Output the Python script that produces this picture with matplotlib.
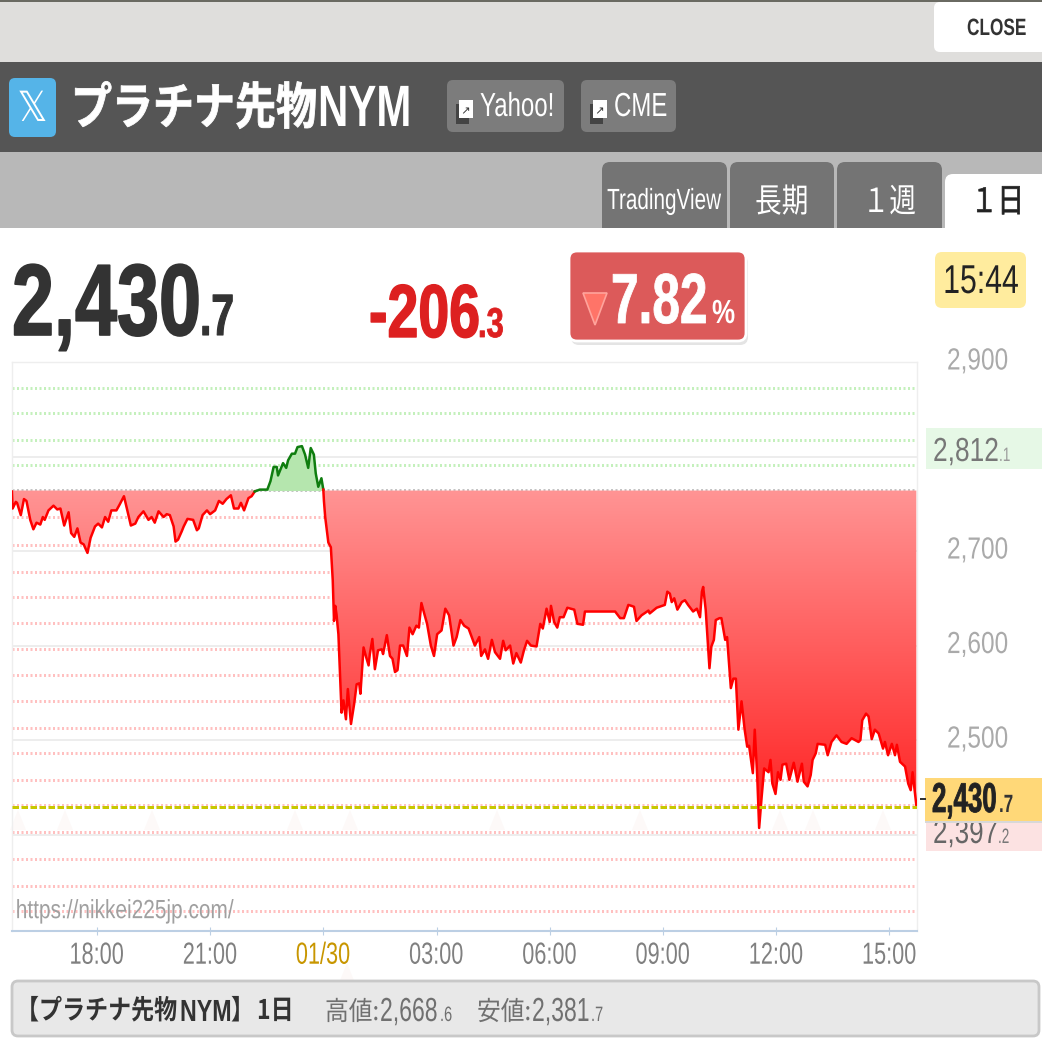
import matplotlib
matplotlib.use("Agg")
import numpy as np
import matplotlib.pyplot as plt
from matplotlib.patches import Rectangle, FancyBboxPatch, Polygon
from matplotlib.colors import LinearSegmentedColormap
from matplotlib.path import Path
from matplotlib.patheffects import AbstractPathEffect
from matplotlib.transforms import Affine2D, Bbox, ScaledTranslation

# ---- data ----
minutes = [0,1,6,8,14,19,23,29,34,39,45,49,52,58,66,72,77,83,90,94,99,104,109,114,120,125,132,137,143,148,153,158,166,171,178,183,189,196,201,209,217,222,227,233,241,246,251,257,260,264,270,273,279,288,294,297,303,310,315,323,329,335,341,348,353,360,364,369,376,381,386,394,402,406,411,416,421,423,431,436,439,445,450,454,461,466,471,475,480,483,487,492,495,
496,498,503,507,510,512,514,516,519,522,524,527,531,534,539,544,548,552,554,559,563,567,569,573,577,582,588,590,596,601,605,609,613,617,622,628,632,637,643,647,651,655,660,666,671,676,683,689,695,702,707,713,719,726,731,736,743,746,752,757,763,768,776,781,785,792,797,802,809,814,819,825,834,840,844,850,855,857,862,867,871,877,883,894,899,908,911,959,967,973,980,985,989,993,1001,1012,1014,
1025,1038,1042,1046,1049,1053,1058,1065,1070,1075,1083,1089,1094,1097,1099,1103,1109,1112,1116,1119,1125,1128,1134,1137,1143,1147,1151,1155,1160,1165,1169,1172,1178,1181,1185,1188,1192,1196,1203,1206,1209,1214,1218,1222,1225,1231,1236,1243,1249,1256,1259,1265,1270,1273,1278,1281,1293,1297,1303,1311,1319,1327,1335,1346,1349,1352,1358,1362,1367,1372,1378,1385,1388,1393,1399,1404,1407,1412,1420,1425,1429,1432,1438]
prices = [2763,2745,2752,2751,2738,2755,2753,2733,2723,2730,2728,2736,2733,2743,2748,2744,2745,2727,2741,2719,2715,2724,2709,2707,2698,2714,2726,2729,2725,2736,2731,2743,2743,2749,2758,2744,2727,2729,2736,2742,2733,2736,2730,2742,2736,2739,2738,2726,2710,2712,2721,2726,2734,2733,2722,2724,2738,2743,2739,2743,2753,2750,2755,2759,2745,2745,2751,2743,2756,2758,2763,2765,2765,2765,2774,2789,2789,2780,2793,2788,2796,2803,2803,2810,2811,2802,2788,2809,2802,2782,2768,2777,2765,
2753,2736,2709,2704,2669,2626,2642,2633,2612,2563,2529,2542,2522,2554,2517,2538,2559,2560,2549,2598,2588,2579,2591,2607,2575,2595,2596,2591,2611,2589,2586,2572,2574,2600,2600,2589,2619,2612,2621,2619,2645,2635,2623,2600,2589,2612,2616,2639,2632,2600,2609,2627,2621,2618,2609,2600,2609,2589,2596,2586,2606,2593,2586,2605,2595,2600,2581,2592,2582,2595,2605,2600,2599,2623,2618,2639,2625,2642,2625,2619,2630,2630,2640,2638,2623,2622,2636,2636,2629,2629,2643,2642,2641,2626,2632,2637,2634,
2640,2643,2657,2655,2646,2650,2638,2646,2648,2643,2636,2639,2630,2657,2662,2638,2576,2599,2606,2627,2629,2629,2606,2609,2555,2565,2565,2511,2541,2511,2493,2494,2465,2511,2461,2407,2440,2470,2466,2479,2454,2443,2466,2458,2474,2475,2458,2476,2456,2475,2456,2451,2463,2479,2486,2496,2495,2484,2498,2505,2498,2496,2502,2498,2500,2521,2528,2525,2501,2511,2507,2491,2498,2484,2496,2484,2495,2477,2472,2454,2447,2466,2430.7]
base_price = 2764
current_price = 2430.7
green_levels = [2873,2846,2818,2791]
red_levels = [2736,2706,2678,2651,2624,2596,2569,2541,2513,2486,2458,2431,2403,2374,2346,2319]
grid_levels = [2900,2800,2700,2600,2500,2400]
y_tick_values = [2900,2700,2600,2500]
y_tick_labels = ["2,900","2,700","2,600","2,500"]
x_ticks = [135,315,495,675,855,1035,1215,1395]
x_labels = ["18:00","21:00","01/30","03:00","06:00","09:00","12:00","15:00"]
tabs = ["TradingView","長期","１週","１日"]

# ---- fonts ----
LAT = ["Liberation Sans", "Noto Sans CJK JP", "DejaVu Sans"]
JP = ["Noto Sans CJK JP", "DejaVu Sans"]
plt.rcParams["font.family"] = LAT


class Squeeze(AbstractPathEffect):
    """Draw a text horizontally condensed (and optionally heavier), as the reference's type is."""
    def __init__(self, sx, ha, stroke=0):
        self.sx, self.ha, self.stroke = sx, ha, stroke

    def draw_path(self, renderer, gc, tpath, affine, rgbFace=None):
        w = tpath.get_extents().x1
        pivot = {"left": 0, "center": w/2, "right": w}[self.ha]
        a = Affine2D().translate(-pivot, 0).scale(self.sx, 1).translate(pivot, 0) + affine
        if self.stroke:
            g = renderer.new_gc()
            g.copy_properties(gc)
            g.set_linewidth(self.stroke)
            g.set_foreground(rgbFace)
            renderer.draw_path(g, tpath, a, rgbFace)
            g.restore()
        else:
            renderer.draw_path(gc, tpath, a, rgbFace)


def squeeze(t, sx, stroke=0):
    ha = t.get_ha()
    t.set_path_effects([Squeeze(sx, ha, stroke)])
    orig = t.get_window_extent

    def extent(renderer=None, dpi=None):
        bb = orig(renderer, dpi)
        px = {"left": bb.x0, "center": (bb.x0+bb.x1)/2, "right": bb.x1}[ha]
        return Bbox([[px+(bb.x0-px)*sx, bb.y0], [px+(bb.x1-px)*sx, bb.y1]])
    t.get_window_extent = extent
    return t


W = 1042
fig = plt.figure(figsize=(W/100, W/100), dpi=100, facecolor="white")
ui = fig.add_axes([0, 0, 1, 1], zorder=0)
ui.set_xlim(0, W); ui.set_ylim(W, 0); ui.axis("off")


def rect(x0, y0, x1, y1, c, z=1):
    ui.add_patch(Rectangle((x0, y0), x1-x0, y1-y0, fc=c, ec="none", zorder=z))


def rrect(x0, y0, x1, y1, c, r=6, z=2, ec="none", lw=0):
    ui.add_patch(FancyBboxPatch((x0+r, y0+r), x1-x0-2*r, y1-y0-2*r,
                 boxstyle=f"round,pad={r},rounding_size={r}", fc=c, ec=ec, lw=lw, zorder=z))


def txt(x, y, s, size, c, sx=0.8, weight="normal", ha="left", fam=LAT, z=5, stroke=0):
    t = ui.text(x, y, s, fontsize=size, color=c, weight=weight, ha=ha, va="baseline", family=fam, zorder=z)
    return squeeze(t, sx, stroke)


# top strip
rect(0, 0, W, 62, "#dfdedc")
rect(0, 0, W, 2, "#6a6a62")
rrect(934, 2, 1060, 52, "white", r=6)
txt(967, 35, "CLOSE", 17, "#333333", .73, "bold")

# header
rect(0, 62, W, 152, "#555555")
rrect(9, 78, 56, 137, "#55b4e8", r=6)
txt(32.5, 121, "\U0001D54F", 30, "white", .9, ha="center", fam=["DejaVu Sans"])
txt(71, 124, "プラチナ先物", 36, "white", .82, "bold", fam=JP, stroke=.6)
txt(318, 126, "NYM", 42, "white", .72, "bold")
rrect(447, 80, 564, 132, "#7c7c7c", r=6)
rrect(581, 80, 676, 132, "#7c7c7c", r=6)
for bx in (456, 590):
    rect(bx, 104, bx+13, 124, "#444444", z=3)
    rect(bx+3, 100, bx+17, 118, "white", z=4)
    txt(bx+10, 114, "↗", 8, "#333333", 1, ha="center", fam=["DejaVu Sans"])
txt(480, 116, "Yahoo!", 24, "white", .72)
txt(614, 116, "CME", 24, "white", .72)

# tabs
rect(0, 152, W, 228, "#b8b8b8")
tab_box = [(602, 727, 162), (730, 834, 162), (837, 942, 162), (945, 1060, 174)]
for (x0, x1, y0), label in zip(tab_box, tabs):
    white = label == "１日"
    rrect(x0, y0, x1, 240, "white" if white else "#747474", r=8)
    cx = (x0+x1)/2 if not white else 998
    if label == "TradingView":
        txt(664, 209, label, 21, "white", .71, ha="center")
    else:
        txt(cx, 212, label, 24, "#222222" if white else "white", .8, ha="center", fam=JP, stroke=.5 if white else 0)
rect(0, 228, W, W, "white", z=3)

# headline numbers
txt(12, 335, "2,430", 73, "#333333", .745, "bold", stroke=1.2)
txt(200, 335, ".7", 42, "#333333", .7, "bold", stroke=.8)
txt(369, 337, "-206", 54, "#dd2020", .74, "bold", stroke=1)
txt(478, 337, ".3", 30, "#dd2020", .74, "bold", stroke=.6)
rrect(571, 255, 748, 345, "#e4e4e4", r=8, z=3.5)
rrect(569, 251, 746, 341, "#dc5a5a", r=8, z=4, ec="white", lw=2)
ui.add_patch(Polygon([[583, 293], [607, 293], [595, 325]], closed=True, fc="#ff7468", ec="#ffa49c", lw=1.2, zorder=5))
txt(611, 323, "7.82", 51, "white", .70, "bold", stroke=.6)
txt(712, 323, "%", 24, "white", .78, "bold")
rrect(935, 252, 1026, 308, "#ffec9e", r=7, z=4)
txt(981, 293, "15:44", 29, "#222222", .75, ha="center")

# price side boxes
rect(926, 428, W, 469, "#e6f8e6", z=4)
txt(933, 461, "2,812", 24, "#777777", .79)
txt(999, 461, ".1", 14, "#999999", .7)
rect(926, 815, W, 851, "#fce2e2", z=4)
txt(933, 843, "2,397", 24, "#666666", .78)
txt(998, 843, ".2", 15, "#777777", .65)
rect(925, 778, W, 822, "#ffd878", z=5)
rect(925, 821, W, 823, "#d8d8d8", z=5)
txt(932, 812, "2,430", 30, "#222222", .62, "bold", z=6, stroke=.6)
txt(999, 812, ".7", 18, "#333333", .68, "bold", z=6)
rect(920, 798, 926, 800, "#333333", z=6)

# faint ghost marks of the page background
for gx, gy in [(18, 810), (65, 810), (152, 810), (295, 810), (350, 810), (497, 810),
               (640, 810), (780, 810), (813, 810), (883, 810), (347, 963)]:
    ui.add_patch(Polygon([[gx-8, gy+20], [gx+8, gy+20], [gx, gy]], closed=True, fc="#fdf9f8", ec="none", zorder=3.5))

# bottom bar
rrect(12, 981, 1039, 1036, "#e8e8e8", r=6, ec="#c8c8c8", lw=2, z=4)
txt(16, 1019, "【プラチナ先物", 19.5, "#333333", .85, "bold", fam=JP)
txt(180, 1021, "NYM", 22, "#333333", .76, "bold")
txt(231, 1019, "】", 19.5, "#333333", .85, "bold", fam=JP)
txt(257, 1019, "1日", 19.5, "#333333", .85, "bold", fam=JP)
txt(325, 1020, "高値:", 19, "#707070", .9, fam=JP)
txt(380, 1021, "2,668", 24, "#707070", .69)
txt(440, 1021, ".6", 15, "#707070", .7)
txt(477, 1020, "安値:", 19, "#707070", .9, fam=JP)
txt(532, 1021, "2,381", 24, "#707070", .69)
txt(591, 1021, ".7", 15, "#707070", .7)


# ---- chart ----
def axpos(x0, y0, x1, y1):
    return [x0/W, 1-y1/W, (x1-x0)/W, (y1-y0)/W]


ax = fig.add_axes(axpos(12, 362, 917, 931), zorder=2)
ax.patch.set_alpha(0)
t = np.array(minutes, float)
p = np.array(prices, float)

DOT_LW = 2.16            # 3 px
DOT = (0, (0.67, 0.83))  # 2 px on, 2.5 px off
for yy in grid_levels:
    ax.axhline(yy, color="#e8e8e8", lw=1.1, zorder=1)
for yy in green_levels:
    ax.axhline(yy, color="#c4f0bc", lw=DOT_LW, ls=DOT, zorder=1.5)
for yy in red_levels:
    ax.axhline(yy, color="#ffc0c0", lw=DOT_LW, ls=DOT, zorder=1.5)
ax.axhline(base_price+1, color="#c4c4c4", lw=DOT_LW, ls=DOT, zorder=1.5)

# fills
ax.fill_between(t, base_price, p, where=p >= base_price, interpolate=True, color="#b5e6ae", lw=0, zorder=2)
cmap = LinearSegmentedColormap.from_list("redfill", ["#ff9494", "#ff1e1e"])
grad = np.linspace(0, 1, 256).reshape(-1, 1)
im = ax.imshow(grad, aspect="auto", cmap=cmap, extent=[0, 1439, 2407, base_price], origin="upper", zorder=2.1)
clip = ax.fill_between(t, base_price, p, where=p <= base_price, interpolate=True, color="none", lw=0)
im.set_clip_path(Path.make_compound_path(*clip.get_paths()), ax.transData)
ax.set_xlim(0, 1439)
ax.set_ylim(2298, 2900)

# price line
g0, g1 = np.searchsorted(t, 386), np.searchsorted(t, 495)
ax.plot(t[:g0+1], p[:g0+1], color="#ff0000", lw=1.8, zorder=3)
ax.plot(t[g0:g1+1], p[g0:g1+1], color="#0f7d0f", lw=1.8, zorder=3)
ax.plot(t[g1:], p[g1:], color="#ff0000", lw=1.8, zorder=3)
down = ScaledTranslation(0, -1.5/100, fig.dpi_scale_trans)
last_line = ax.axhline(current_price, color="#c8c800", lw=DOT_LW, ls=(0, (2.17, 0.83)), zorder=4)
last_line.set_transform(last_line.get_transform() + down)

squeeze(ax.text(6, 2319, "https://nikkei225jp.com/", fontsize=19, color="#a0a0a0", va="center", zorder=5), .79)

# axes
for s in ("left", "top", "right"):
    ax.spines[s].set_color("#eeeeee"); ax.spines[s].set_linewidth(1)
ax.spines["bottom"].set_color("#bccfe4"); ax.spines["bottom"].set_linewidth(1.5)
ax.set_xticks(x_ticks)
ax.set_xticklabels(x_labels, fontsize=22, color="#808080")
ax.get_xticklabels()[2].set_color("#c89600")
ax.tick_params(axis="x", direction="inout", length=6, color="#bccfe4", pad=4)
for lab in ax.get_xticklabels():
    squeeze(lab, .71)
ax.yaxis.tick_right()
ax.set_yticks(y_tick_values)
ax.set_yticklabels(y_tick_labels, fontsize=22, color="#aaaaaa")
ax.tick_params(axis="y", length=0, pad=21.6)
up = ScaledTranslation(0, 4/100, fig.dpi_scale_trans)
for lab in ax.get_yticklabels():
    lab.set_transform(lab.get_transform() + up)
    squeeze(lab, .8)

fig.savefig("out.png", dpi=100)
